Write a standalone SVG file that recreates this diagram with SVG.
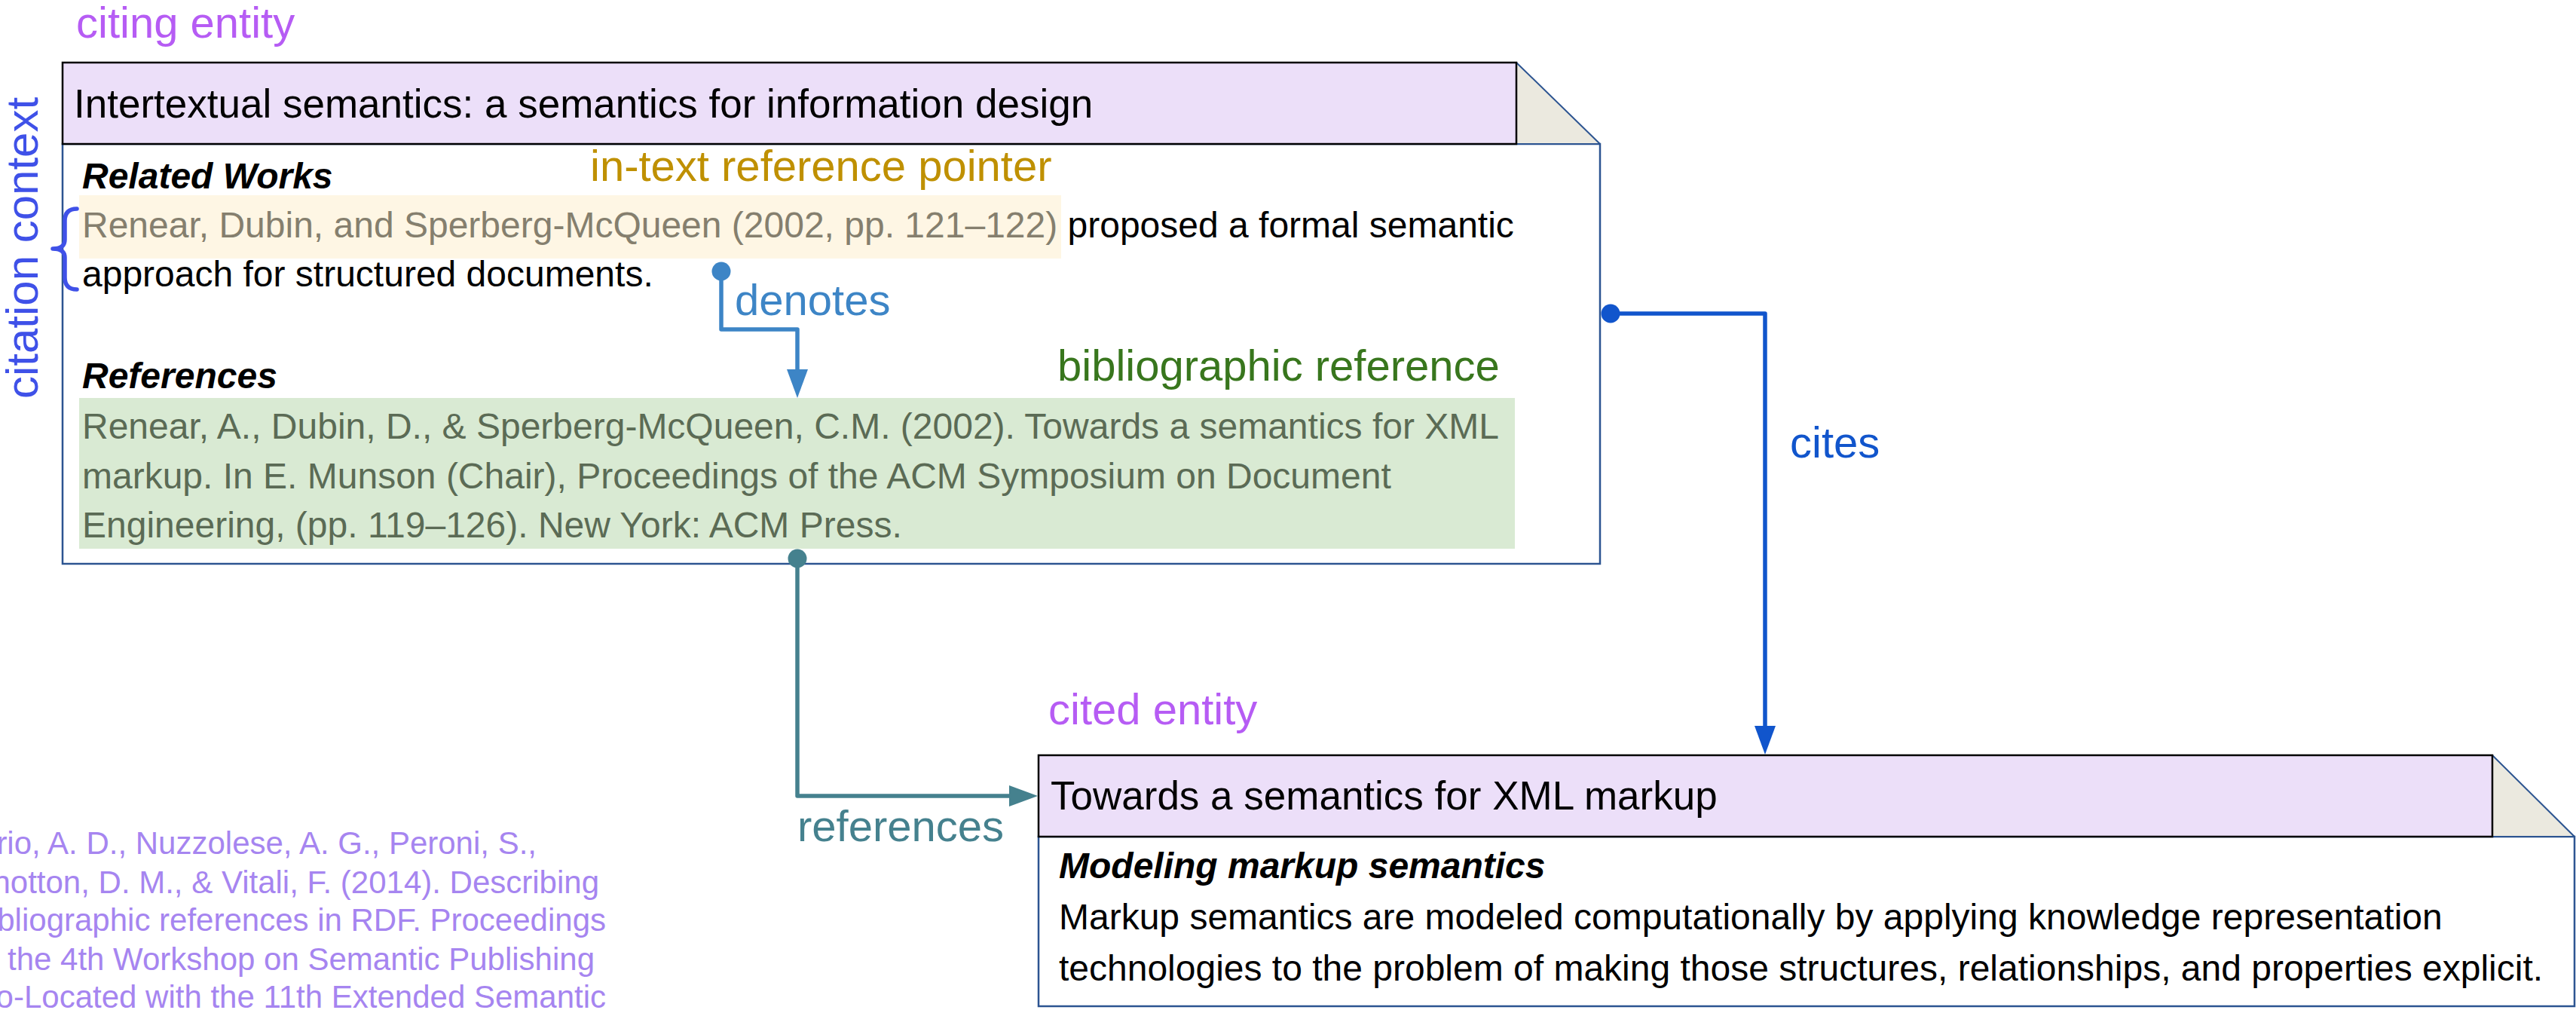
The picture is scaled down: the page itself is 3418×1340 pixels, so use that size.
<svg xmlns="http://www.w3.org/2000/svg" width="3418" height="1340" viewBox="0 0 3418 1340">
  <style>
    text { font-family: "Liberation Sans", Arial, sans-serif; }
    .title { font-size: 53px; fill: #000; }
    .body { font-size: 48px; fill: #000; }
    .head { font-size: 48px; font-weight: bold; font-style: italic; fill: #000; }
    .label { font-size: 58px; }
    .ptr { fill: #857f6e; }
    .bib { fill: #5b6b55; }
    .header { fill: #ecdff9; stroke: #000; stroke-width: 2.5; }
    .fold { fill: #ebe9df; stroke: #2c5491; stroke-width: 2; stroke-linejoin: round; }
    .doc { fill: #fff; stroke: #2c5491; stroke-width: 2.5; }
    .conn { fill: none; stroke-width: 5.5; stroke-linejoin: round; }
    .entity { fill: #b65cf4; }
    .source { font-size: 42px; fill: #a685f0; }
  </style>
  <defs>
    <marker id="arrow-denotes" markerUnits="userSpaceOnUse" markerWidth="38" markerHeight="28" refX="0" refY="14" orient="auto">
      <path d="M0,0 L38,14 L0,28 z" fill="#3d85c6"/>
    </marker>
    <marker id="arrow-references" markerUnits="userSpaceOnUse" markerWidth="38" markerHeight="28" refX="0" refY="14" orient="auto">
      <path d="M0,0 L38,14 L0,28 z" fill="#45818e"/>
    </marker>
    <marker id="arrow-cites" markerUnits="userSpaceOnUse" markerWidth="38" markerHeight="28" refX="0" refY="14" orient="auto">
      <path d="M0,0 L38,14 L0,28 z" fill="#1155cc"/>
    </marker>
    <marker id="dot-denotes" markerUnits="userSpaceOnUse" markerWidth="26" markerHeight="26" refX="13" refY="13">
      <circle cx="13" cy="13" r="12.5" fill="#3d85c6"/>
    </marker>
    <marker id="dot-references" markerUnits="userSpaceOnUse" markerWidth="26" markerHeight="26" refX="13" refY="13">
      <circle cx="13" cy="13" r="12.5" fill="#45818e"/>
    </marker>
    <marker id="dot-cites" markerUnits="userSpaceOnUse" markerWidth="26" markerHeight="26" refX="13" refY="13">
      <circle cx="13" cy="13" r="12.5" fill="#1155cc"/>
    </marker>
  </defs>

  <!-- citing document -->
  <g id="citing-entity">
    <rect class="doc" x="83" y="191" width="2040" height="557"/>
    <polygon class="fold" points="2012,83 2123,191 2012,191"/>
    <rect class="header" x="83" y="83" width="1929" height="108"/>
    <text class="title" x="98" y="156">Intertextual semantics: a semantics for information design</text>
    <text class="head" x="109" y="250">Related Works</text>
    <rect id="in-text-pointer" x="105" y="259" width="1303" height="84" fill="#fef6e4"/>
    <text class="body" x="109" y="315"><tspan class="ptr">Renear, Dubin, and Sperberg-McQueen (2002, pp. 121–122)</tspan> proposed a formal semantic</text>
    <text class="body" x="109" y="380">approach for structured documents.</text>
    <text class="head" x="109" y="515">References</text>
    <rect id="bibliographic-reference" x="105" y="528" width="1905" height="200" fill="#d9ead3"/>
    <text class="body bib" x="109" y="582">Renear, A., Dubin, D., &amp; Sperberg-McQueen, C.M. (2002). Towards a semantics for XML</text>
    <text class="body bib" x="109" y="648">markup. In E. Munson (Chair), Proceedings of the ACM Symposium on Document</text>
    <text class="body bib" x="109" y="713">Engineering, (pp. 119–126). New York: ACM Press.</text>
  </g>

  <!-- cited document -->
  <g id="cited-entity">
    <rect class="doc" x="1378" y="1110" width="2038" height="225"/>
    <polygon class="fold" points="3307,1002 3416,1110 3307,1110"/>
    <rect class="header" x="1378" y="1002" width="1929" height="108"/>
    <text class="title" x="1394" y="1074">Towards a semantics for XML markup</text>
    <text class="head" x="1405" y="1165">Modeling markup semantics</text>
    <text class="body" x="1405" y="1233">Markup semantics are modeled computationally by applying knowledge representation</text>
    <text class="body" x="1405" y="1301">technologies to the problem of making those structures, relationships, and properties explicit.</text>
  </g>

  <!-- role labels -->
  <g id="role-labels" class="label">
    <text class="entity" x="101" y="50">citing entity</text>
    <text x="783" y="240" fill="#bf9000">in-text reference pointer</text>
    <text x="1403" y="505" fill="#38761d">bibliographic reference</text>
    <text class="entity" x="1391" y="961">cited entity</text>
  </g>

  <!-- citation context brace -->
  <g id="citation-context">
    <path d="M102,277 Q86,277 86,293 L86,318 Q86,330 70,330 Q86,330 86,342 L86,368 Q86,384 102,384" fill="none" stroke="#3f51e8" stroke-width="5.5" stroke-linecap="round" stroke-linejoin="round"/>
    <text x="50" y="329" font-size="60" fill="#3f51e8" text-anchor="middle" transform="rotate(-90 50 329)">citation context</text>
  </g>

  <!-- source reference, partly outside the canvas -->
  <g id="source-reference" class="source" text-anchor="end">
    <text x="712" y="1133">rio, A. D., Nuzzolese, A. G., Peroni, S.,</text>
    <text x="795" y="1185">Shotton, D. M., &amp; Vitali, F. (2014). Describing</text>
    <text x="804" y="1235">bibliographic references in RDF. Proceedings</text>
    <text x="789" y="1287">of the 4th Workshop on Semantic Publishing</text>
    <text x="804" y="1337">Co-Located with the 11th Extended Semantic</text>
  </g>

  <!-- connectors -->
  <g id="connectors">
    <path class="conn" stroke="#3d85c6" d="M957,360 V437 H1058 V490" marker-start="url(#dot-denotes)" marker-end="url(#arrow-denotes)"/>
    <text class="label" x="975" y="418" fill="#3d85c6">denotes</text>
    <path class="conn" stroke="#45818e" d="M1058,741 V1056 H1339" marker-start="url(#dot-references)" marker-end="url(#arrow-references)"/>
    <text class="label" x="1058" y="1116" fill="#45818e">references</text>
    <path class="conn" stroke="#1155cc" d="M2137,416 H2342 V963" marker-start="url(#dot-cites)" marker-end="url(#arrow-cites)"/>
    <text class="label" x="2375" y="607" fill="#1155cc">cites</text>
  </g>
</svg>
